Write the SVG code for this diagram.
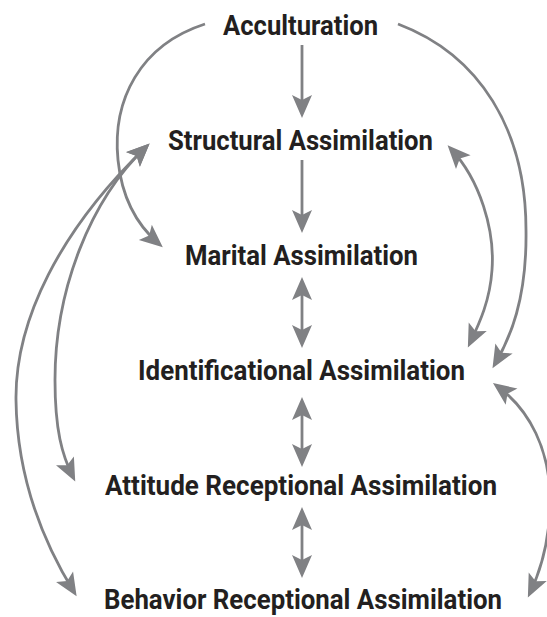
<svg xmlns="http://www.w3.org/2000/svg" width="547" height="617" viewBox="0 0 547 617">
<style>
.lbl{font-family:Roboto,"Liberation Sans",sans-serif;font-weight:bold;font-size:28px;fill:#231f20}
.c{fill:none;stroke:#808184;stroke-width:2.8}
.a{marker-end:url(#ah)}
.b{marker-start:url(#ah);marker-end:url(#ah)}
</style>
<defs>
<marker id="ah" markerUnits="userSpaceOnUse" markerWidth="40" markerHeight="40" refX="0" refY="0" viewBox="-20 -20 40 40" orient="auto-start-reverse" overflow="visible">
<path d="M5,0 L-18,-10 L-13,0 L-18,10 Z" fill="#808184"/>
</marker>
</defs>
<rect width="547" height="617" fill="#fff"/>
<g id="connectors">
<path class="c a" d="M302,45 L302,113"/>
<path class="c a" d="M302,160 L302,228"/>
<path class="c b" d="M302,282 L302,343"/>
<path class="c b" d="M302,402 L302,462"/>
<path class="c b" d="M302,512 L302,573"/>
<path class="c a" d="M205,24 C140,45 112,100 118,160 C122,200 138,226 159,244"/>
<path class="c a" d="M398,24 C480,55 526,130 526,230 C527,300 510,338 495,364"/>
<path class="c b" d="M451,149 C480,180 495,230 492,270 C490,300 480,322 470,343"/>
<path class="c b" d="M497,386 C530,410 550,450 550,500 C550,540 540,572 530,593"/>
<path class="c b" d="M146,147 C90,200 55,290 55,380 C55,430 62,455 73,477"/>
<path class="c b" d="M146,147 C60,230 15,320 16,400 C17,480 45,545 74,592"/>
</g>
<g id="acculturation"><text class="lbl" x="223" y="35" textLength="155" lengthAdjust="spacingAndGlyphs">Acculturation</text></g>
<g id="structural"><text class="lbl" x="168" y="150" textLength="265" lengthAdjust="spacingAndGlyphs">Structural Assimilation</text></g>
<g id="marital"><text class="lbl" x="185" y="265" textLength="233" lengthAdjust="spacingAndGlyphs">Marital Assimilation</text></g>
<g id="identificational"><text class="lbl" x="138" y="380" textLength="327" lengthAdjust="spacingAndGlyphs">Identificational Assimilation</text></g>
<g id="attitude"><text class="lbl" x="105" y="495" textLength="392" lengthAdjust="spacingAndGlyphs">Attitude Receptional Assimilation</text></g>
<g id="behavior"><text class="lbl" x="104" y="609" textLength="398" lengthAdjust="spacingAndGlyphs">Behavior Receptional Assimilation</text></g>
</svg>
